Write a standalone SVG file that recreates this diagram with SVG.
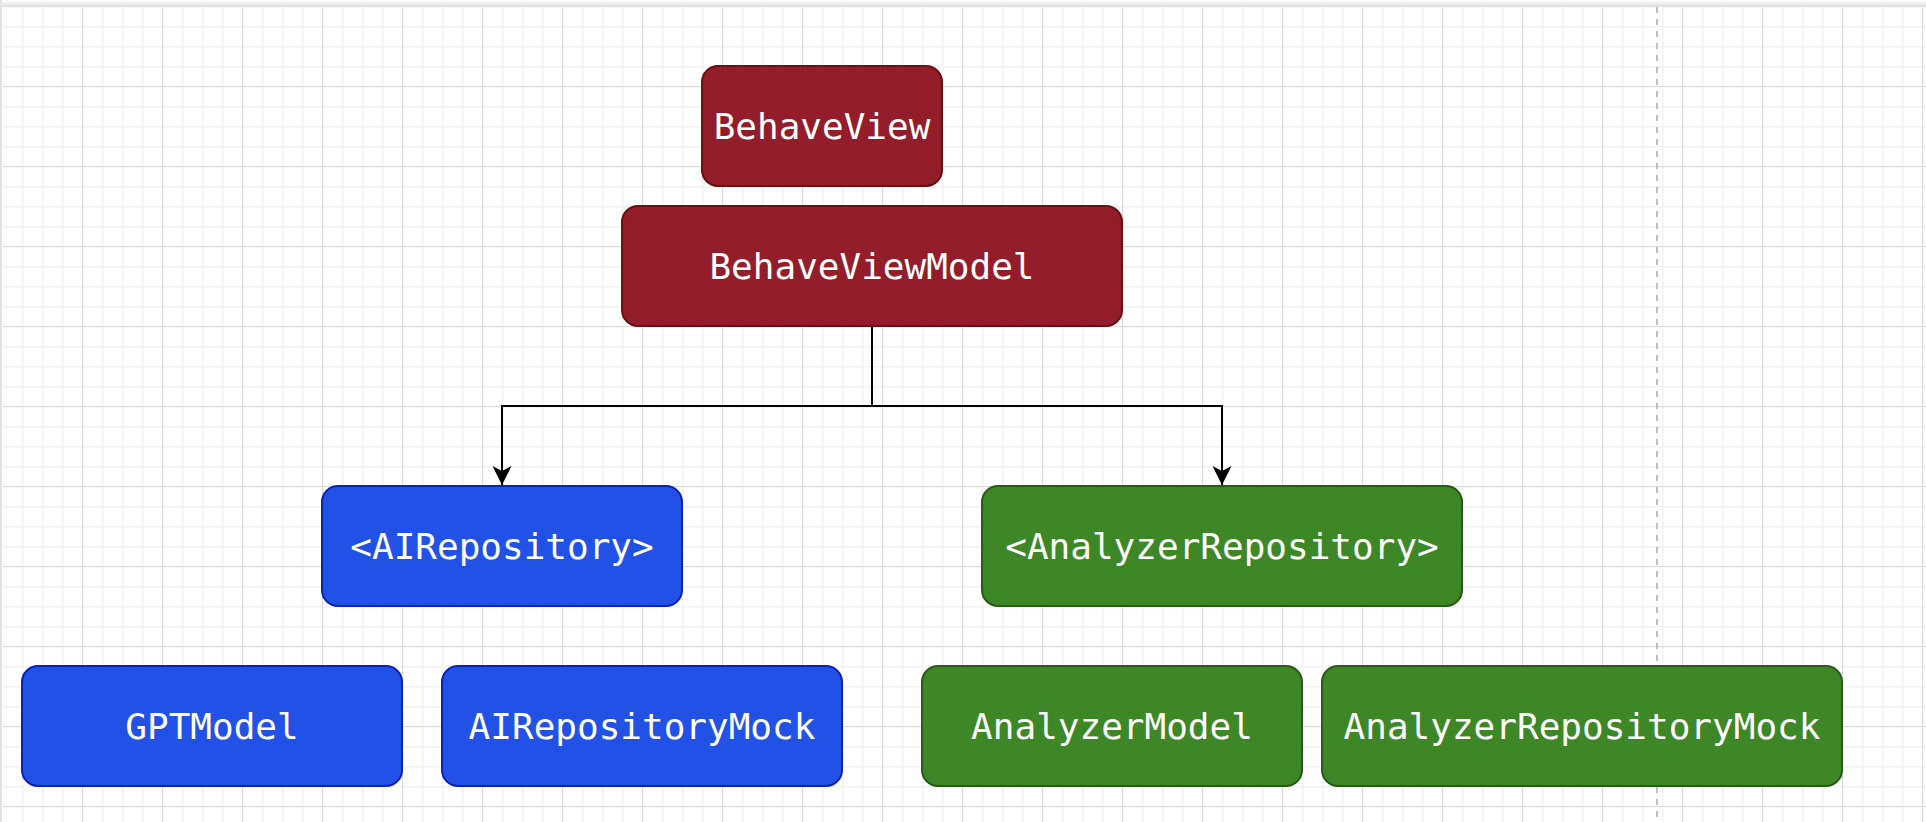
<svg xmlns="http://www.w3.org/2000/svg" width="1926" height="822" viewBox="0 0 1926 822">
<defs>
<pattern id="minor" x="2" y="6" width="20" height="20" patternUnits="userSpaceOnUse">
<path d="M0 0H20M0 0V20" fill="none" stroke="#f2f2f2" stroke-width="3"/>
</pattern>
<pattern id="major" x="2" y="6" width="80" height="80" patternUnits="userSpaceOnUse">
<path d="M0 0H80M0 0V80" fill="none" stroke="#d3d3d3" stroke-width="1.6"/>
</pattern>
<linearGradient id="shadow" x1="0" y1="0" x2="0" y2="1">
<stop offset="0" stop-color="#ffffff"/>
<stop offset="1" stop-color="#dcdcdc"/>
</linearGradient>
<marker id="arrow" viewBox="0 0 20 20" refX="19" refY="10" markerWidth="20" markerHeight="20" markerUnits="userSpaceOnUse" orient="auto">
<path d="M19 10L0 0.5L5 10L0 19.5Z" fill="#000"/>
</marker>
<style>
.node text{font-family:"DejaVu Sans Mono","Liberation Mono",monospace;font-size:36px;fill:#ffffff;text-anchor:middle}
.red rect{fill:#931d2b;stroke:#6b1010;stroke-width:2}
.blue rect{fill:#2252e5;stroke:#0a22b5;stroke-width:2}
.green rect{fill:#3d8726;stroke:#285a18;stroke-width:2}
.edge{fill:none;stroke:#000;stroke-width:2;marker-end:url(#arrow)}
</style>
</defs>
<rect width="1926" height="822" fill="#ffffff"/>
<rect x="0" y="0" width="1926" height="7" fill="url(#shadow)"/>
<rect x="0" y="0" width="2" height="822" fill="#e2e2e2"/>
<g id="grid">
<rect x="3" y="7" width="1923" height="815" fill="url(#minor)"/>
<rect x="3" y="7" width="1923" height="815" fill="url(#major)"/>
</g>
<line id="divider" x1="1657" y1="7" x2="1657" y2="822" stroke="#c0c0c0" stroke-width="2" stroke-dasharray="6 6"/>
<g id="connectors">
<path class="edge" d="M872 326V406H502V485"/>
<path class="edge" d="M872 326V406H1222V485"/>
</g>
<g id="behaveView" class="node red"><rect x="702" y="66" width="240" height="120" rx="16"/><text x="822" y="139">BehaveView</text></g>
<g id="behaveViewModel" class="node red"><rect x="622" y="206" width="500" height="120" rx="16"/><text x="872" y="279">BehaveViewModel</text></g>
<g id="aiRepository" class="node blue"><rect x="322" y="486" width="360" height="120" rx="16"/><text x="502" y="559">&lt;AIRepository&gt;</text></g>
<g id="analyzerRepository" class="node green"><rect x="982" y="486" width="480" height="120" rx="16"/><text x="1222" y="559">&lt;AnalyzerRepository&gt;</text></g>
<g id="gptModel" class="node blue"><rect x="22" y="666" width="380" height="120" rx="16"/><text x="212" y="739">GPTModel</text></g>
<g id="aiRepositoryMock" class="node blue"><rect x="442" y="666" width="400" height="120" rx="16"/><text x="642" y="739">AIRepositoryMock</text></g>
<g id="analyzerModel" class="node green"><rect x="922" y="666" width="380" height="120" rx="16"/><text x="1112" y="739">AnalyzerModel</text></g>
<g id="analyzerRepositoryMock" class="node green"><rect x="1322" y="666" width="520" height="120" rx="16"/><text x="1582" y="739">AnalyzerRepositoryMock</text></g>
</svg>
